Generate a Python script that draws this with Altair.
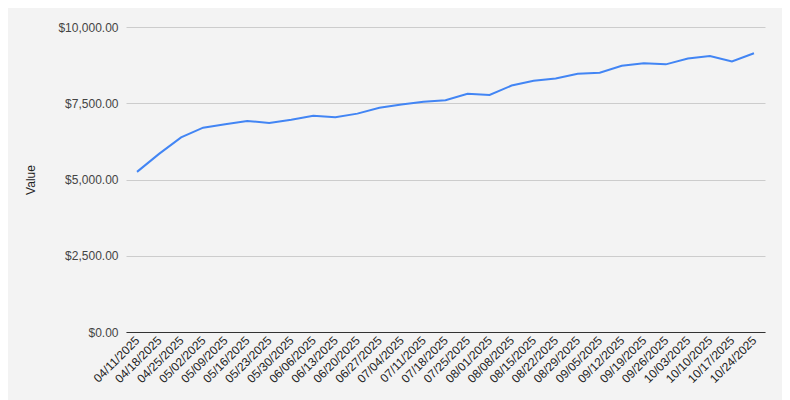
import altair as alt
import pandas as pd

dates = ["04/11/2025", "04/18/2025", "04/25/2025", "05/02/2025", "05/09/2025",
         "05/16/2025", "05/23/2025", "05/30/2025", "06/06/2025", "06/13/2025",
         "06/20/2025", "06/27/2025", "07/04/2025", "07/11/2025", "07/18/2025",
         "07/25/2025", "08/01/2025", "08/08/2025", "08/15/2025", "08/22/2025",
         "08/29/2025", "09/05/2025", "09/12/2025", "09/19/2025", "09/26/2025",
         "10/03/2025", "10/10/2025", "10/17/2025", "10/24/2025"]
values = [5250, 5840, 6380, 6700, 6810, 6920, 6850, 6960, 7090, 7040,
          7160, 7350, 7460, 7550, 7600, 7810, 7770, 8080, 8240, 8310,
          8470, 8500, 8730, 8815, 8775, 8970, 9045, 8870, 9140]

df = pd.DataFrame({"Date": dates, "Value": values})

FONT = "Liberation Sans"

chart = alt.Chart(df).mark_line(color="#4285f4", strokeWidth=2).encode(
    x=alt.X("Date:O", sort=dates,
            scale=alt.Scale(type="point", padding=0.5),
            axis=alt.Axis(title=None, labelAngle=-45, labelAlign="right",
                          labelBaseline="middle", labelPadding=6,
                          ticks=False, grid=False, domainColor="#333333",
                          labelColor="#222222", labelFont=FONT, labelFontSize=12,
                          labelOverlap=False)),
    y=alt.Y("Value:Q", scale=alt.Scale(domain=[0, 10000], nice=False),
            axis=alt.Axis(title="Value", values=[0, 2500, 5000, 7500, 10000],
                          format="$,.2f", domain=False, ticks=False,
                          gridColor="#cccccc", labelPadding=8,
                          labelColor="#444444", labelFont=FONT, labelFontSize=12,
                          titleFont=FONT, titleFontSize=12, titleFontWeight="normal",
                          titleColor="#222222", titlePadding=20)),
).properties(
    width=639, height=305,
    background="#f3f3f3",
    padding={"left": 118, "top": 19, "right": 17, "bottom": 68},
    autosize=alt.AutoSizeParams(type="none"),
).configure_view(stroke=None)

chart.save("out.html", embed_options={"renderer": "svg", "actions": False})
